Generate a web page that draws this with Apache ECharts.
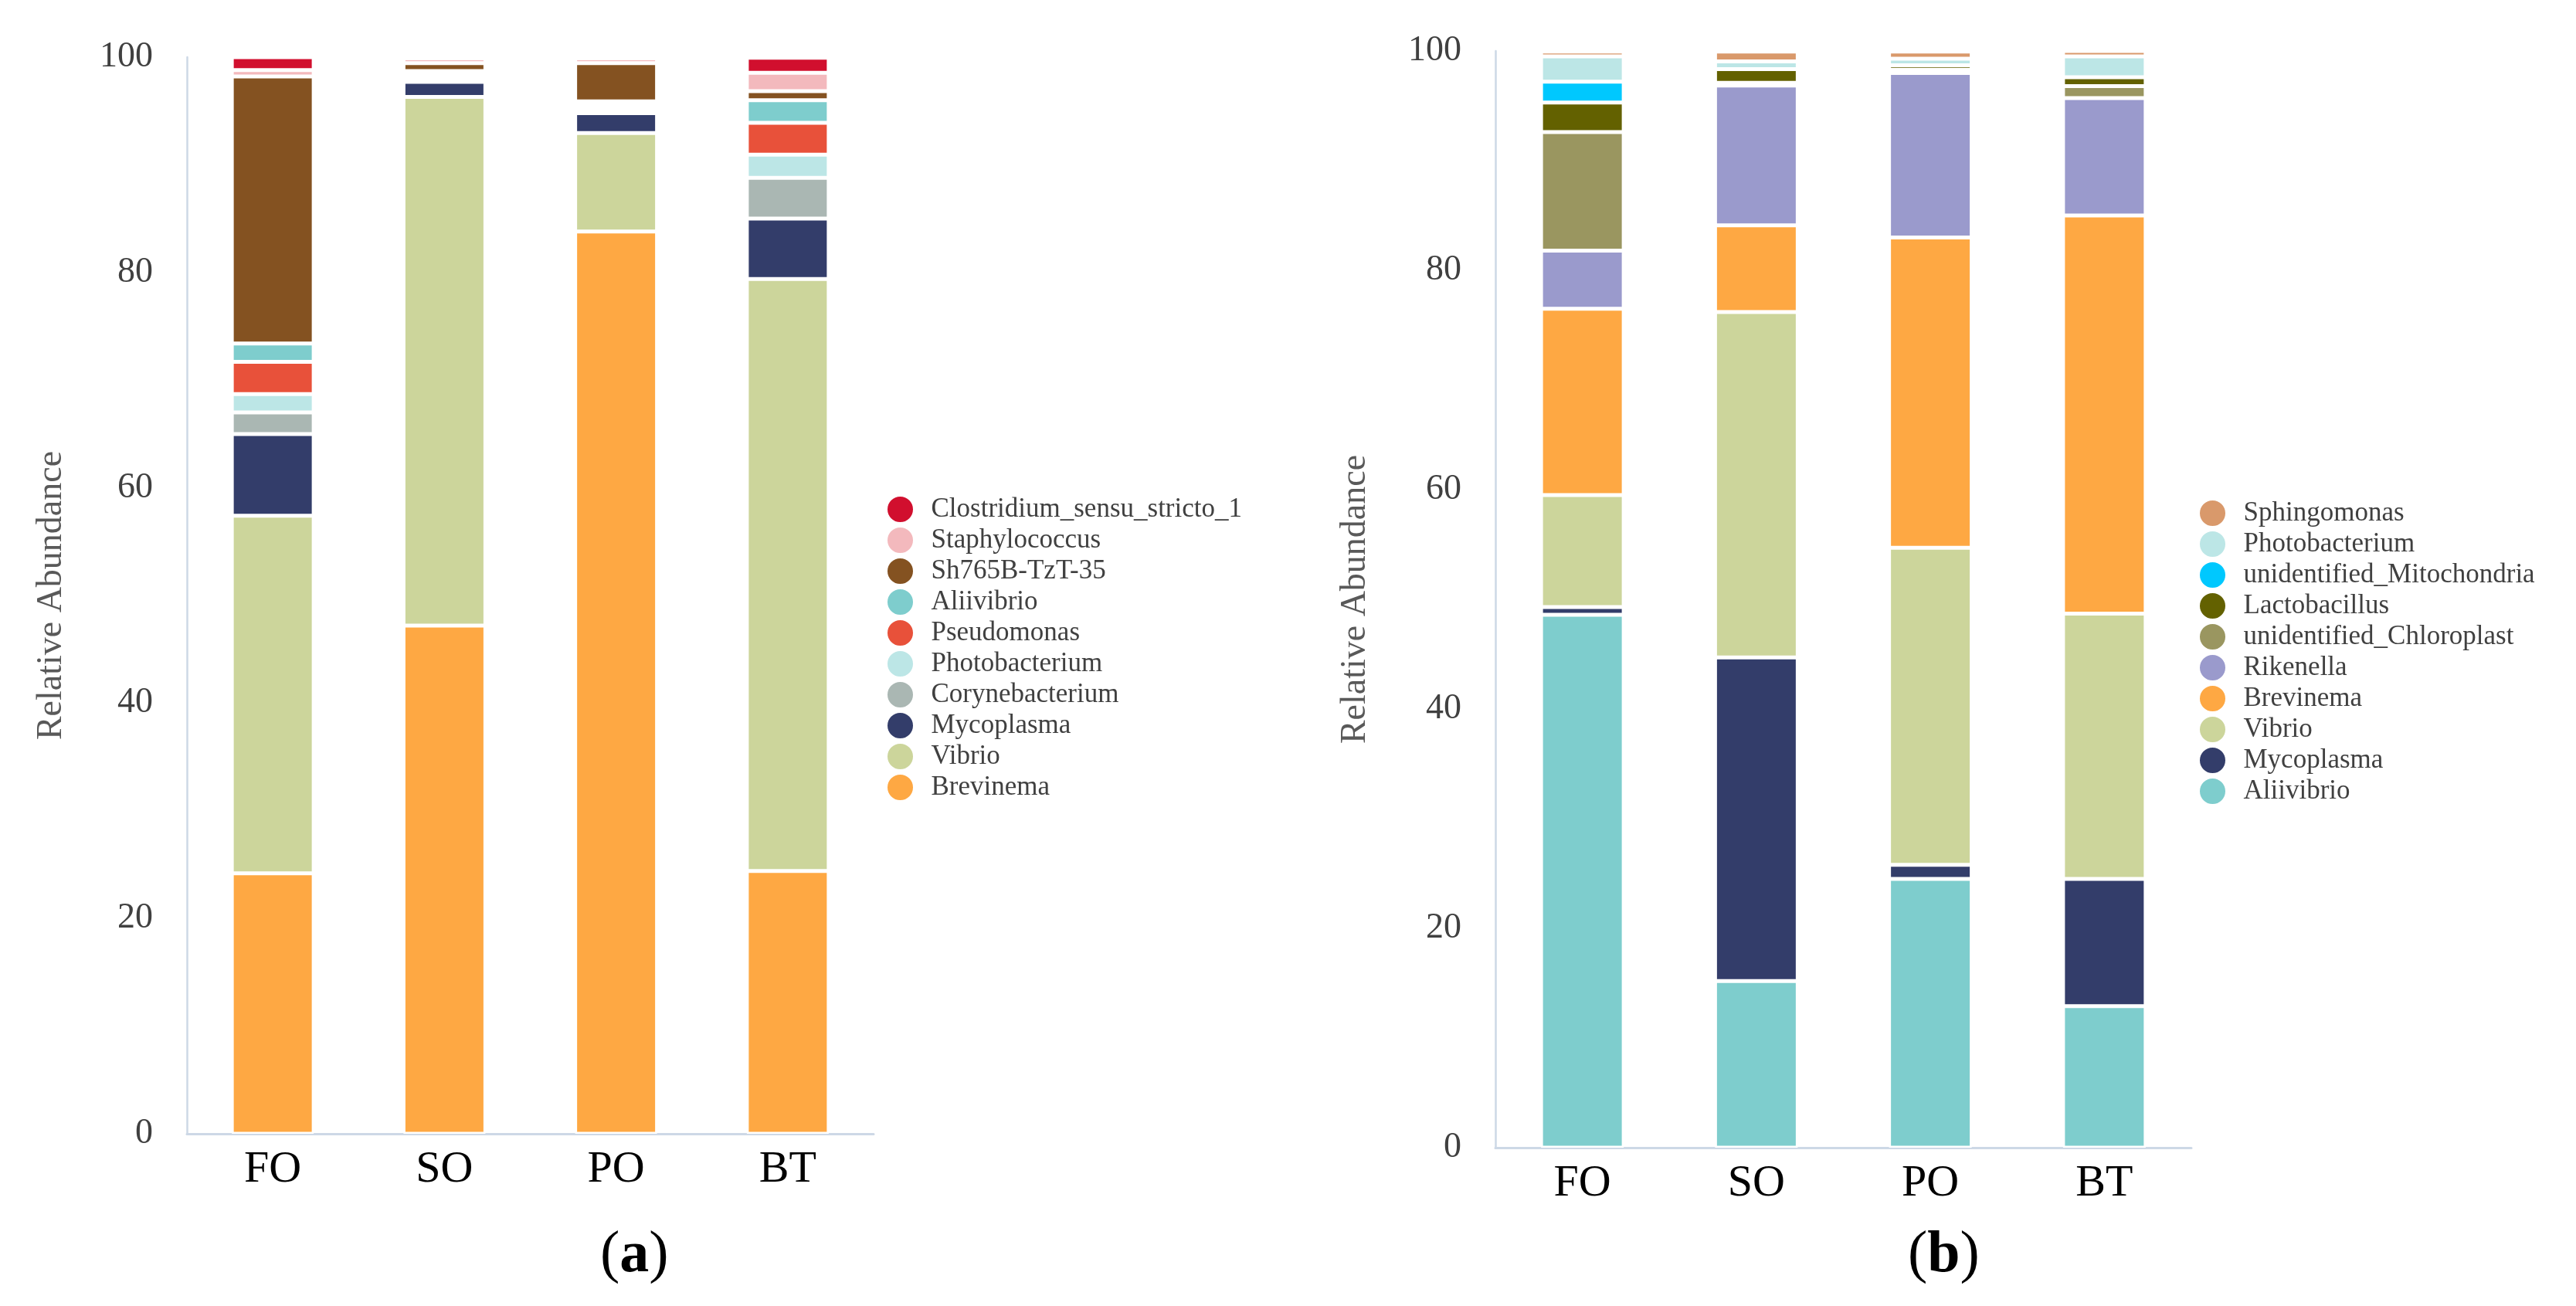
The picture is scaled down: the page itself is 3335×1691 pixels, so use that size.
<!DOCTYPE html>
<html>
<head>
<meta charset="utf-8">
<title>Relative Abundance</title>
<script src="https://cdn.jsdelivr.net/npm/echarts@6/dist/echarts.min.js"></script>
<style>
  html, body { margin: 0; padding: 0; background: #fff; }
  #chart { width: 3335px; height: 1691px; }
</style>
</head>
<body>
<div id="chart"></div>
<script>
// groups on the x axis
const groups = ['FO', 'SO', 'PO', 'BT'];

// panel (a), listed from the bottom of the stack up
const aBrevinema = [24.2, 47.2, 83.8, 24.4];
const aVibrio = [33.2, 49.1, 9.15, 55.0];
const aMycoplasma = [7.6, 1.4, 1.85, 5.6];
const aCorynebacterium = [2.0, 0.3, 0.15, 3.8];
const aPhotobacterium = [1.7, 0.3, 0.35, 2.15];
const aPseudomonas = [3.0, 0.2, 0.35, 2.95];
const aAliivibrio = [1.7, 0.2, 0.25, 2.1];
const aSh765B = [24.8, 0.75, 3.55, 0.85];
const aStaphylococcus = [0.6, 0.45, 0.45, 1.7];
const aClostridium = [1.2, 0.1, 0.1, 1.4];

// panel (b), listed from the bottom of the stack up
const bAliivibrio = [48.6, 15.2, 24.5, 12.9];
const bMycoplasma = [0.7, 29.5, 1.3, 11.6];
const bVibrio = [10.2, 31.5, 28.9, 24.2];
const bBrevinema = [17.0, 7.9, 28.3, 36.3];
const bRikenella = [5.3, 12.75, 15.0, 10.7];
const bChloroplast = [10.8, 0.25, 0.3, 1.1];
const bLactobacillus = [2.7, 1.25, 0.4, 0.8];
const bMitochondria = [1.9, 0, 0, 0];
const bPhotobacterium = [2.3, 0.7, 0.6, 1.9];
const bSphingomonas = [0.45, 0.9, 0.65, 0.5];

const colors = {
  'Clostridium_sensu_stricto_1': '#d10f2e',
  'Staphylococcus': '#f3b9bd',
  'Sh765B-TzT-35': '#845221',
  'Aliivibrio': '#7ecdcd',
  'Pseudomonas': '#e8513a',
  'Photobacterium': '#bce6e6',
  'Corynebacterium': '#aab7b3',
  'Mycoplasma': '#333d6a',
  'Vibrio': '#ccd59b',
  'Brevinema': '#fea843',
  'Sphingomonas': '#d9996b',
  'unidentified_Mitochondria': '#00c8fe',
  'Lactobacillus': '#636100',
  'unidentified_Chloroplast': '#9a9660',
  'Rikenella': '#9a9acc'
};

const seriesA = [
  ['Brevinema', aBrevinema],
  ['Vibrio', aVibrio],
  ['Mycoplasma', aMycoplasma],
  ['Corynebacterium', aCorynebacterium],
  ['Photobacterium', aPhotobacterium],
  ['Pseudomonas', aPseudomonas],
  ['Aliivibrio', aAliivibrio],
  ['Sh765B-TzT-35', aSh765B],
  ['Staphylococcus', aStaphylococcus],
  ['Clostridium_sensu_stricto_1', aClostridium]
];
const seriesB = [
  ['Aliivibrio', bAliivibrio],
  ['Mycoplasma', bMycoplasma],
  ['Vibrio', bVibrio],
  ['Brevinema', bBrevinema],
  ['Rikenella', bRikenella],
  ['unidentified_Chloroplast', bChloroplast],
  ['Lactobacillus', bLactobacillus],
  ['unidentified_Mitochondria', bMitochondria],
  ['Photobacterium', bPhotobacterium],
  ['Sphingomonas', bSphingomonas]
];

const serif = 'Liberation Serif';
const axisColor = '#cdd8e6';

function bars(list, idx, width) {
  return list.map(function (s) {
    return {
      name: s[0],
      type: 'bar',
      stack: 'p' + idx,
      xAxisIndex: idx,
      yAxisIndex: idx,
      barWidth: width,
      data: s[1],
      itemStyle: { color: colors[s[0]], borderColor: '#fff', borderWidth: 2.5 },
      emphasis: { disabled: true }
    };
  });
}

function xAx(idx) {
  return {
    type: 'category', gridIndex: idx, data: groups,
    axisLine: { lineStyle: { color: axisColor, width: 3 } },
    axisTick: { show: false },
    axisLabel: { fontFamily: serif, fontSize: 58, color: '#000', margin: 18 }
  };
}
function yAx(idx, gap) {
  return {
    type: 'value', gridIndex: idx, min: 0, max: 100, interval: 20,
    name: 'Relative Abundance', nameLocation: 'middle', nameRotate: 90, nameGap: gap,
    nameTextStyle: { fontFamily: serif, fontSize: 46, color: '#595959' },
    axisLine: { show: true, lineStyle: { color: axisColor, width: 2.5 } },
    axisTick: { show: false },
    splitLine: { show: false },
    axisLabel: { fontFamily: serif, fontSize: 46, color: '#404040', margin: 44 }
  };
}
function legend(list, left, top) {
  return {
    orient: 'vertical', left: left, top: top,
    icon: 'circle', itemWidth: 70, itemHeight: 35, itemGap: 3,
    selectedMode: false,
    textStyle: { fontFamily: serif, fontSize: 35, color: '#404040' },
    data: list.map(function (s) { return s[0]; }).reverse()
  };
}

const chart = echarts.init(document.getElementById('chart'));
chart.setOption({
  animation: false,
  backgroundColor: '#fff',
  grid: [
    { left: 242, top: 74, width: 889, height: 1394 },
    { left: 1936, top: 66, width: 901, height: 1420 }
  ],
  xAxis: [xAx(0), xAx(1)],
  yAxis: [yAx(0, 152), yAx(1, 158)],
  legend: [legend(seriesA, 1142, 636), legend(seriesB, 2841, 641)],
  graphic: [
    {
      type: 'text', left: 777, top: 1588,
      style: {
        text: '({a|a})', font: '76px "Liberation Serif"', fill: '#000',
        rich: { a: { fontFamily: serif, fontSize: 76, fontWeight: 'bold' } }
      }
    },
    {
      type: 'text', left: 2470, top: 1588,
      style: {
        text: '({b|b})', font: '76px "Liberation Serif"', fill: '#000',
        rich: { b: { fontFamily: serif, fontSize: 76, fontWeight: 'bold' } }
      }
    }
  ],
  series: bars(seriesA, 0, 106).concat(bars(seriesB, 1, 107))
});
</script>
</body>
</html>
